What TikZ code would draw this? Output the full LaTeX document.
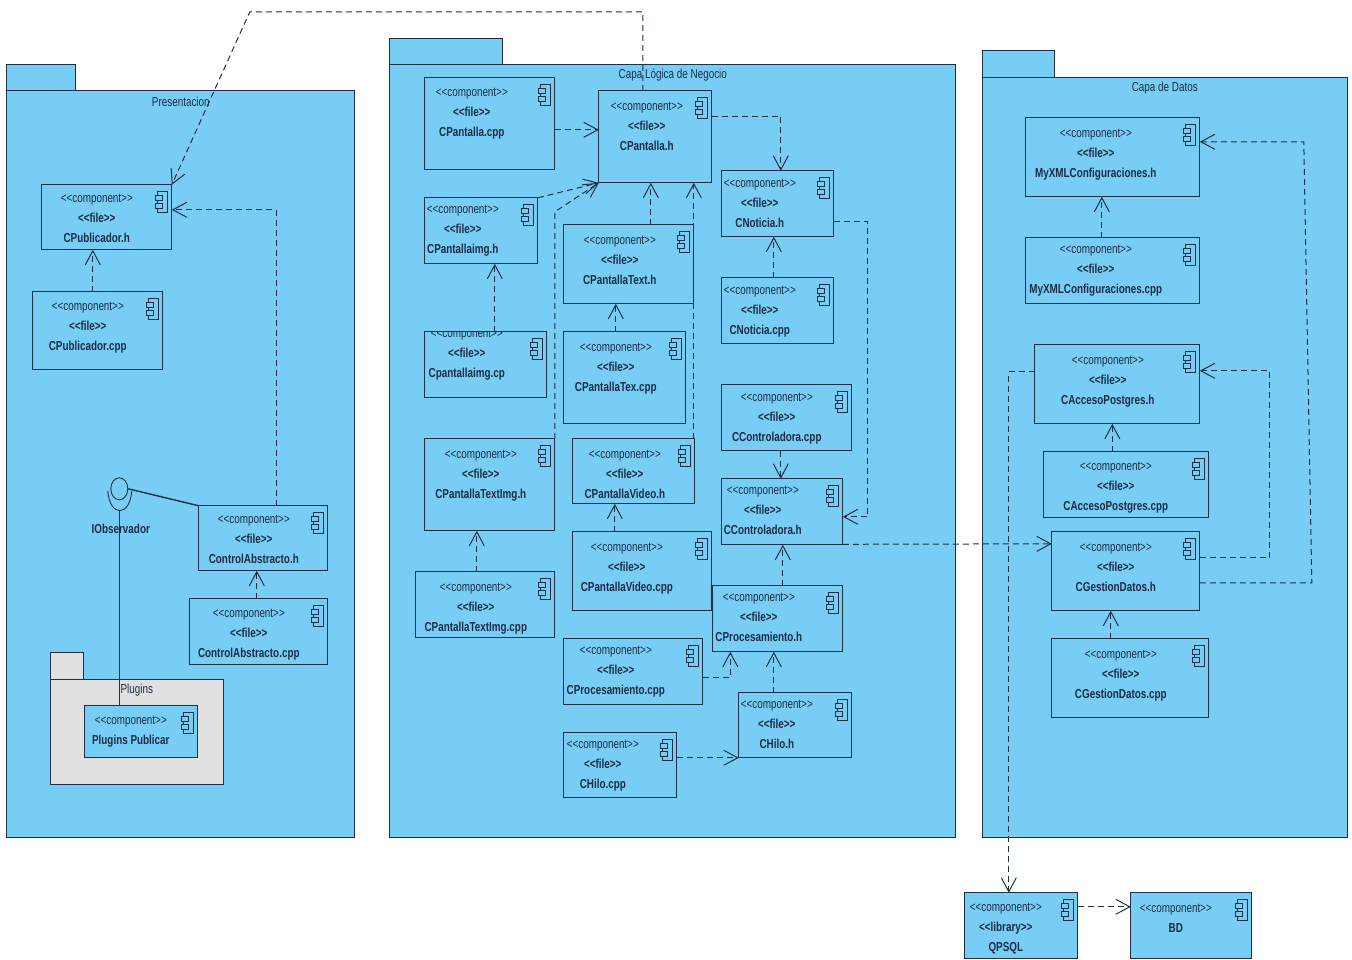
\documentclass[tikz,border=0pt]{standalone}
\usepackage{fontspec}
\setmainfont[FakeStretch=0.76,Ligatures=NoCommon]{Liberation Sans}
\usetikzlibrary{arrows.meta,shapes.geometric,positioning}
\definecolor{pkgblue}{HTML}{78CDF4}
\definecolor{pkggray}{HTML}{E0E0E0}
\definecolor{inkline}{HTML}{1F2F4A}
\definecolor{inktext}{HTML}{1B2C47}
\tikzset{
  boxnode/.style={
    shape = rectangle,
    draw = inkline,
    fill = pkgblue,
    line width = 1.1pt,
    inner sep = 0pt,
    outer sep = 0pt,
    anchor = north west
  },
  stereo/.style={
    anchor = base,
    inner sep = 0pt,
    text = inktext,
    font = \fontsize{13}{15}\selectfont
  },
  fname/.style={
    stereo,
    font = \fontsize{13}{15}\selectfont\bfseries
  },
  pkglabel/.style={
    inner sep = 0pt,
    text = inktext,
    font = \fontsize{13}{15}\selectfont
  },
  dep/.style={
    draw = inkline,
    line width = 1pt,
    dash pattern = on 6pt off 4pt,
    -{Straight Barb[length=14pt,width=15pt]}
  },
  compicon/.pic={
    \draw[inkline, line width=1pt] (-14,7) rectangle (-4,28);
    \draw[inkline, line width=1pt, fill=pkgblue] (-16,11) rectangle (-9,16);
    \draw[inkline, line width=1pt, fill=pkgblue] (-16,19) rectangle (-9,24);
  }
}
\newcommand{\boxat}[6][]{%
  \node[boxnode, #1, minimum width={(#5-#3)*1pt}, minimum height={(#6-#4)*1pt}] (#2) at (#3,#4) {};
}
% name, x1, y1, x2, y2, text x, text y, label
\newcommand{\filecomp}[9][file]{%
  \boxat{#2}{#3}{#4}{#5}{#6}
  \begin{scope}
    \clip (#3,#4) rectangle (#5,#6);
    \node[stereo] (#2a) at (#7,#8+5) {<{}<component>{}>};
    \node[fname] (#2b) at (#7,#8+25) {<{}<#1>{}>};
    \node[fname] (#2c) at (#7,#8+45) {#9};
  \end{scope}
  \pic at (#5,#4) {compicon};
}
\newcommand{\plaincomp}[8]{%
  \boxat{#1}{#2}{#3}{#4}{#5}
  \node[stereo] (#1a) at (#6,#7+5) {<{}<component>{}>};
  \node[fname] (#1c) at (#6,#7+25) {#8};
  \pic at (#4,#3) {compicon};
}
\begin{document}
\begin{tikzpicture}[x=1pt,y=-1pt]
    \useasboundingbox (0.2,0.2) rectangle (1352.2,960.2);
    % packages
    \boxat{pretab}{7}{65}{76}{91}
    \boxat{pre}{7}{91}{355}{838}
    \node[pkglabel] (prelbl) at (181,102.5) {Presentacion};
    \boxat{negtab}{390}{39}{503}{65}
    \boxat{neg}{390}{65}{956}{838}
    \node[pkglabel] (neglbl) at (673,75.5) {Capa Lógica de Negocio};
    \boxat{dattab}{983}{51}{1055}{78}
    \boxat{dat}{983}{78}{1348}{838}
    \node[pkglabel] (datlbl) at (1165,88.5) {Capa de Datos};
    \boxat[fill=pkggray]{plutab}{51}{653}{84}{680}
    \boxat[fill=pkggray]{plu}{51}{680}{224}{785}
    \node[pkglabel] (plulbl) at (137,690.5) {Plugins};
    % Presentacion
    \filecomp{cpubh}{42}{185}{172}{250}{97}{198}{CPublicador.h}
    \filecomp{cpubc}{33}{292}{163}{370}{88}{306}{CPublicador.cpp}
    \filecomp{cabsh}{199}{506}{328}{571}{254}{519}{ControlAbstracto.h}
    \filecomp{cabsc}{190}{599}{328}{665}{249}{613}{ControlAbstracto.cpp}
    \plaincomp{plupub}{85}{706}{198}{758}{131}{720}{Plugins Publicar}
    % Capa Logica
    \filecomp{cpanc}{425}{78}{555}{170}{472}{92}{CPantalla.cpp}
    \filecomp{cpanh}{599}{91}{712}{183}{647}{106}{CPantalla.h}
    \filecomp{cimgh}{425}{198}{538}{264}{463}{209}{CPantallaimg.h}
    \filecomp{cimgc}{425}{332}{547}{398}{467}{333}{Cpantallaimg.cp}
    \filecomp{ctxth}{564}{225}{694}{304}{620}{240}{CPantallaText.h}
    \filecomp{ctxtc}{564}{332}{686}{424}{616}{347}{CPantallaTex.cpp}
    \filecomp{cnoth}{722}{171}{834}{237}{760}{183}{CNoticia.h}
    \filecomp{cnotc}{722}{278}{834}{344}{760}{290}{CNoticia.cpp}
    \filecomp{cctrc}{722}{385}{852}{451}{777}{397}{CControladora.cpp}
    \filecomp{cctrh}{722}{479}{843}{545}{763}{490}{CControladora.h}
    \filecomp{ctimh}{425}{439}{555}{531}{481}{454}{CPantallaTextImg.h}
    \filecomp{ctimc}{416}{572}{555}{638}{476}{587}{CPantallaTextImg.cpp}
    \filecomp{cvidh}{573}{439}{695}{504}{625}{454}{CPantallaVideo.h}
    \filecomp{cvidc}{573}{532}{712}{611}{627}{547}{CPantallaVideo.cpp}
    \filecomp{cproh}{713}{586}{843}{652}{759}{597}{CProcesamiento.h}
    \filecomp{cproc}{564}{639}{703}{705}{616}{650}{CProcesamiento.cpp}
    \filecomp{chilh}{739}{693}{852}{758}{777}{704}{CHilo.h}
    \filecomp{chilc}{564}{733}{677}{798}{603}{744}{CHilo.cpp}
    % Capa de Datos
    \filecomp{cxmlh}{1026}{118}{1200}{197}{1096}{133}{MyXMLConfiguraciones.h}
    \filecomp{cxmlc}{1026}{238}{1200}{304}{1096}{249}{MyXMLConfiguraciones.cpp}
    \filecomp{cacch}{1035}{345}{1200}{424}{1108}{360}{CAccesoPostgres.h}
    \filecomp{caccc}{1044}{452}{1209}{518}{1116}{466}{CAccesoPostgres.cpp}
    \filecomp{cgesh}{1052}{532}{1200}{611}{1116}{547}{CGestionDatos.h}
    \filecomp{cgesc}{1052}{639}{1209}{718}{1121}{654}{CGestionDatos.cpp}
    % outside
    \filecomp[library]{qpsql}{965}{893}{1078}{959}{1006}{907}{QPSQL}
    \plaincomp{bd}{1131}{893}{1252}{959}{1176}{908}{BD}
    % interface
    \node[draw=inkline, line width=0.9pt, ellipse, inner sep=0pt, minimum width=17pt, minimum height=22pt] (iobs) at (119.5,489) {};
    \coordinate (sockl) at (108,491);
    \coordinate (sockr) at (132,491);
    \coordinate (sockb) at (119.5,511);
    \draw[inkline, line width=0.9pt] (sockl) .. controls (110,517.5) and (130,517.5) .. (sockr);
    \draw[inkline, line width=1.4pt] (iobs.east) -- (cabsh.north west);
    \draw[inkline, line width=0.9pt] (sockb) -- (plupub.north west -| sockb);
    \node[fname, anchor=center] (iobslbl) at (121,529.5) {IObservador};
    % dependencies
    \coordinate (topr) at (643,12);
    \coordinate (topl) at (250,12);
    \draw[dep] ([xshift=44]cpanh.north west) -- (topr) -- (topl) -- (cpubh.north east);
    \draw[dep] ([xshift=60]cpubc.north west) -- ([xshift=51]cpubh.south west);
    \coordinate (absb) at (276.5,210);
    \draw[dep] ([xshift=77.5]cabsh.north west) -- (absb) -- (cpubh.east |- absb);
    \draw[dep] ([xshift=67]cabsc.north west) -- ([xshift=58]cabsh.south west);
    \draw[dep] ([yshift=-52]cpanc.north east) -- ([yshift=-39]cpanh.north west);
    \draw[dep] (cimgh.north east) -- (cpanh.south west);
    \coordinate (timb) at (555,212);
    \draw[dep] (ctimh.north east) -- (timb) -- (cpanh.south west);
    \draw[dep] ([xshift=70]cimgc.north west) -- ([xshift=70]cimgh.south west);
    \draw[dep] ([xshift=87]ctxth.north west) -- ([xshift=52]cpanh.south west);
    \draw[dep] ([xshift=52]ctxtc.north west) -- ([xshift=52]ctxth.south west);
    \draw[dep] ([xshift=121]cvidh.north west) -- ([xshift=95]cpanh.south west);
    \draw[dep] ([xshift=61]ctimc.north west) -- ([xshift=52]ctimh.south west);
    \draw[dep] ([xshift=42]cvidc.north west) -- ([xshift=42]cvidh.south west);
    \coordinate (notb) at (781,116.5);
    \draw[dep] ([yshift=-25.5]cpanh.north east) -- (notb) -- (cnoth.north -| notb);
    \draw[dep] ([xshift=52]cnotc.north west) -- ([xshift=52]cnoth.south west);
    \coordinate (ctra) at (868,222);
    \coordinate (ctrb) at (868,517);
    \draw[dep] (cnoth.east |- ctra) -- (ctra) -- (ctrb) -- (cctrh.east |- ctrb);
    \draw[dep] ([xshift=59]cctrc.south west) -- ([xshift=59]cctrh.north west);
    \draw[dep] ([yshift=0.5]cctrh.south east) -- ([yshift=-12]cgesh.north west);
    \draw[dep] ([xshift=70]cproh.north west) -- ([xshift=61]cctrh.south west);
    \coordinate (prob) at (730.5,678);
    \draw[dep] (cproc.east |- prob) -- (prob) -- (cproh.south -| prob);
    \draw[dep] ([xshift=35]chilh.north west) -- ([xshift=61]cproh.south west);
    \draw[dep] ([yshift=-25]chilc.north east) -- (chilh.south west);
    \draw[dep] ([xshift=76]cxmlc.north west) -- ([xshift=76]cxmlh.south west);
    \coordinate (xmla) at (1312,583);
    \coordinate (xmlb) at (1304,142);
    \draw[dep] (cgesh.east |- xmla) -- (xmla) -- (xmlb) -- (cxmlh.east |- xmlb);
    \coordinate (acca) at (1270,558);
    \coordinate (accb) at (1270,371);
    \draw[dep] (cgesh.east |- acca) -- (acca) -- (accb) -- (cacch.east |- accb);
    \draw[dep] ([xshift=68.5]caccc.north west) -- ([xshift=77.5]cacch.south west);
    \draw[dep] ([xshift=59]cgesc.north west) -- ([xshift=59]cgesh.south west);
    \coordinate (psql) at (1009,372);
    \draw[dep] (cacch.west |- psql) -- (psql) -- (qpsql.north -| psql);
    \draw[dep] ([yshift=-14]qpsql.north east) -- ([yshift=-14]bd.north west);
\end{tikzpicture}
\end{document}
